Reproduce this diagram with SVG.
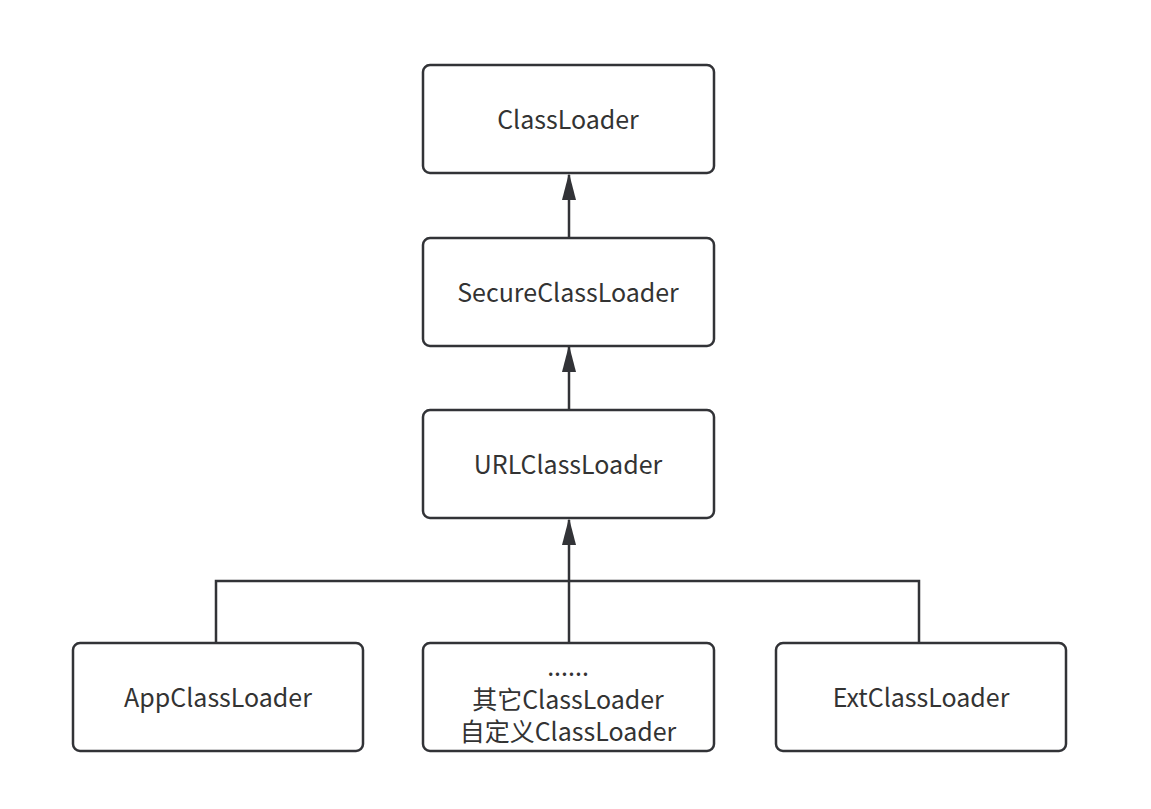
<svg xmlns="http://www.w3.org/2000/svg" width="1151" height="809" viewBox="0 0 1151 809">
<style>
.box{fill:#fff;stroke:#323337;stroke-width:2.5}
.t{font-family:"Noto Sans CJK SC","Noto Sans",sans-serif;font-size:25px;fill:#333;text-anchor:middle}
.c{fill:none;stroke:#323337;stroke-width:2.5}
.ah{fill:#323337}
</style>
<rect width="1151" height="809" fill="#fff"/>
<g id="connectors">
<path class="c" d="M569,238 V175" />
<polygon class="ah" points="569,173 562,200 576,200"/>
<path class="c" d="M569,410 V347" />
<polygon class="ah" points="569,345 562,372 576,372"/>
<path class="c" d="M569,643 V520" />
<polygon class="ah" points="569,518 562,545 576,545"/>
<path class="c" d="M216,643 V581 H919 V643" />
</g>
<g id="n-classloader">
<rect class="box" x="423" y="65" width="291" height="108" rx="7"/>
<text class="t" x="568" y="129">ClassLoader</text>
</g>
<g id="n-secure">
<rect class="box" x="423" y="238" width="291" height="108" rx="7"/>
<text class="t" x="568" y="302">SecureClassLoader</text>
</g>
<g id="n-url">
<rect class="box" x="423" y="410" width="291" height="108" rx="7"/>
<text class="t" x="568" y="474">URLClassLoader</text>
</g>
<g id="n-app">
<rect class="box" x="73" y="643" width="290" height="108" rx="7"/>
<text class="t" x="218" y="707">AppClassLoader</text>
</g>
<g id="n-other">
<rect class="box" x="423" y="643" width="291" height="108" rx="7"/>
<text class="t" x="568" y="676">......</text>
<text class="t" x="568" y="709">其它ClassLoader</text>
<text class="t" x="568" y="741">自定义ClassLoader</text>
</g>
<g id="n-ext">
<rect class="box" x="776" y="643" width="290" height="108" rx="7"/>
<text class="t" x="921" y="707">ExtClassLoader</text>
</g>
</svg>
